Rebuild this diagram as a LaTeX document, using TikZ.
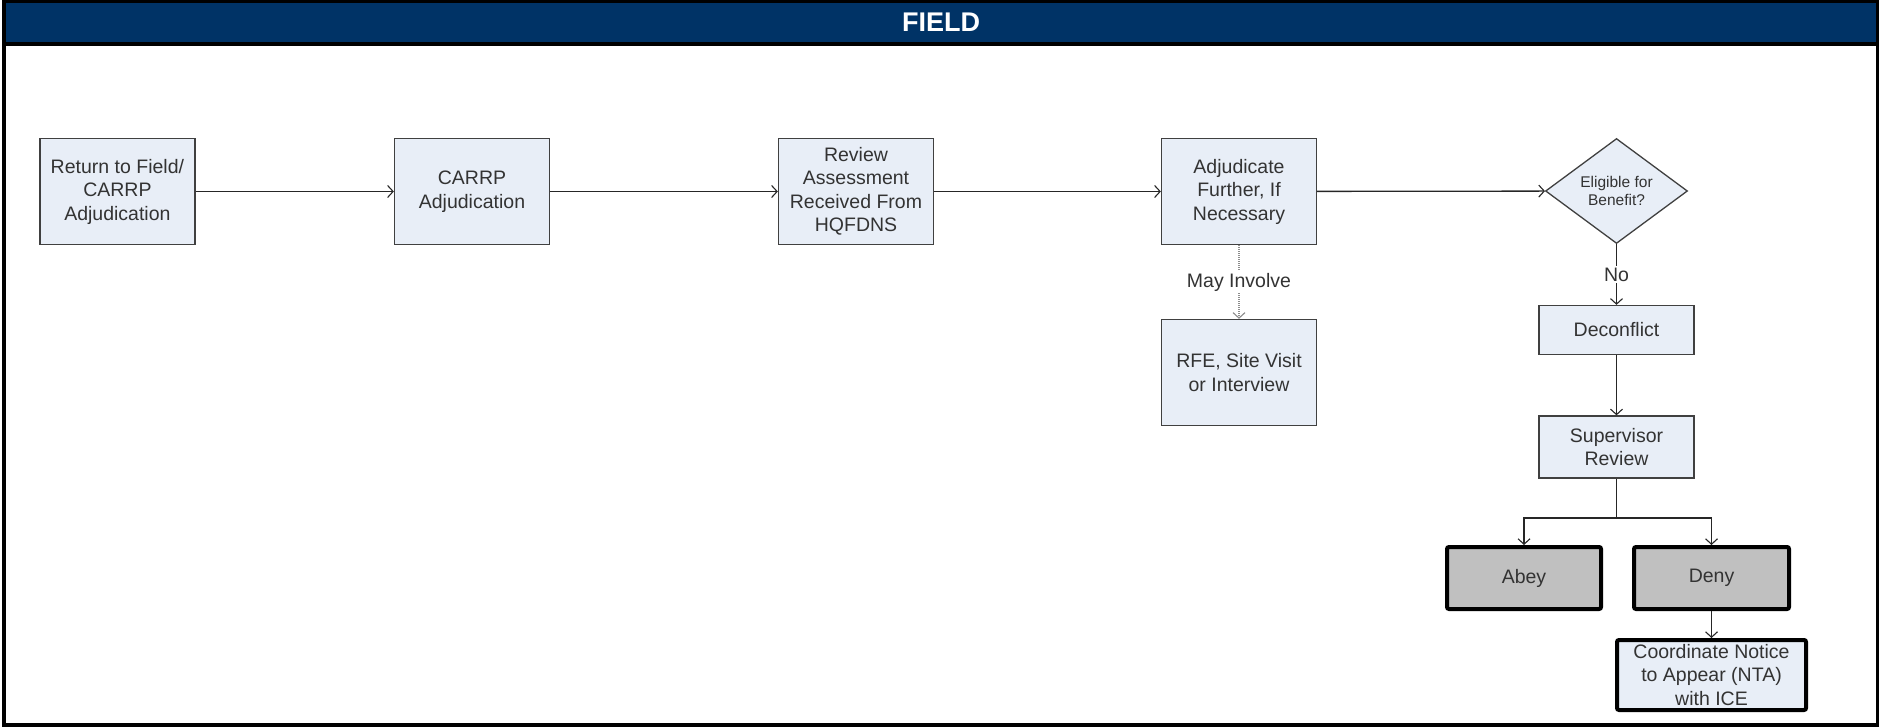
\documentclass[tikz,border=0pt]{standalone}
\usepackage{fontspec}
\setmainfont{Liberation Sans}
\usetikzlibrary{shapes.geometric,arrows.meta}

\definecolor{navy}{RGB}{0,51,102}
\definecolor{boxfill}{RGB}{232,238,247}
\definecolor{boxline}{RGB}{64,64,64}
\definecolor{txt}{RGB}{51,51,51}
\definecolor{holdfill}{RGB}{192,192,192}

\tikzset{
  proc/.style={rectangle, draw=boxline, fill=boxfill, line width=1.3pt,
    text=txt, align=center, inner sep=0pt,
    font=\fontsize{19.5}{23.5}\selectfont},
  stdbox/.style={proc, minimum width=155pt, minimum height=106pt},
  finalbox/.style={proc, draw=black, line width=4pt, rounded corners=2pt},
  decision/.style={diamond, draw=boxline, fill=boxfill, line width=1.3pt,
    text=txt, align=center, inner sep=0pt, aspect=1.35,
    minimum width=142pt, minimum height=105pt,
    font=\fontsize{15.5}{18.3}\selectfont},
  flow/.style={draw=black!85, line width=1.3pt,
    -{Straight Barb[length=5.5pt,width=12pt,line width=1.1pt]}},
  plainflow/.style={draw=black!85, line width=1.3pt},
  maybe/.style={draw=black!45, line width=1.2pt, dash pattern=on 1pt off 1pt,
    -{Straight Barb[length=5.5pt,width=12pt,line width=1.1pt,sep=0pt]}},
  lbl/.style={fill=white, text=txt, inner sep=2pt,
    font=\fontsize{19.5}{23.5}\selectfont}
}

\begin{document}
\begin{tikzpicture}[x=1pt,y=-1pt]
\useasboundingbox (0,0) rectangle (1879,727);

% swimlane header and frame
\fill[navy] (3,1.5) rectangle (1877,44);
\draw[line width=4pt] (4,44) -- (1877,44);
\draw[line width=3.5pt] (4,1.75) rectangle (1877.25,725);
\node[text=white, font=\fontsize{27}{32}\selectfont\bfseries] (title) at (941,22) {FIELD};

% main row
\node[stdbox] (ret) at (117.4,191.5) {Return to Field/\\CARRP\\Adjudication};
\node[stdbox] (carrp) at (472,191.5) {CARRP\\Adjudication};
\node[stdbox] (rev) at (856,191.5) {Review\\Assessment\\Received From\\HQFDNS};
\node[stdbox] (adj) at (1239,191.5) {Adjudicate\\Further, If\\Necessary};
\node[decision] (elig) at (1616.5,191) {Eligible for\\Benefit?};

% side branch
\node[stdbox] (rfe) at (1239,372.5) {RFE, Site Visit\\or Interview};

% right column
\node[proc, minimum width=155pt, minimum height=49pt] (dec) at (1616.5,330) {Deconflict};
\node[proc, minimum width=155pt, minimum height=62pt] (sup) at (1616.5,447) {Supervisor\\Review};
\node[finalbox, fill=holdfill, minimum width=154pt, minimum height=62pt] (abey) at (1524,578) {Abey};
\node[finalbox, fill=holdfill, minimum width=155pt, minimum height=62pt] (deny) at (1711.5,578) {Deny};
\node[finalbox, minimum width=189pt, minimum height=70pt] (nta) at (1711.5,675) {Coordinate Notice\\to Appear (NTA)\\with ICE};

% connectors
\draw[flow] (ret) -- (carrp);
\draw[flow] (carrp) -- (rev);
\draw[flow] (rev) -- (adj);
\draw[flow] (adj) -- (elig);
\draw[flow] (elig) -- node[lbl] (no) {No} (dec);
\draw[maybe] (adj) -- node[lbl] (inv) {May Involve} (rfe);
\draw[flow] (dec) -- (sup);
\coordinate (split) at (1616.5,518);
\draw[plainflow] (sup) -- (split);
\draw[flow] (split) -| (abey);
\draw[flow] (split) -| (deny);
\draw[flow] (deny) -- (nta);
\end{tikzpicture}
\end{document}
